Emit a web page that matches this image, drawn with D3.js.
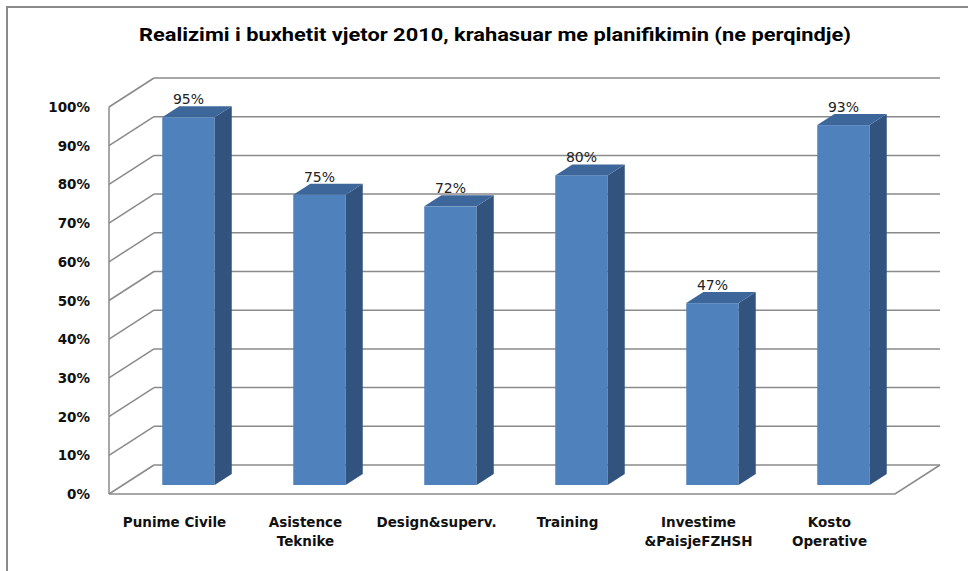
<!DOCTYPE html>
<html lang="sq">
<head>
<meta charset="utf-8">
<title>Realizimi i buxhetit</title>
<script src="https://cdn.jsdelivr.net/npm/d3@7"></script>
<style>
  body { margin: 0; background: #fff; }
</style>
</head>
<body>
<script>
var categories = ['Punime Civile', 'Asistence\nTeknike', 'Design&superv.', 'Training', 'Investime\n&PaisjeFZHSH', 'Kosto\nOperative'];
var values = [0.95, 0.75, 0.72, 0.80, 0.47, 0.93];
var ticks = [0, 0.1, 0.2, 0.3, 0.4, 0.5, 0.6, 0.7, 0.8, 0.9, 1.0];
var title = 'Realizimi i buxhetit vjetor 2010, krahasuar me planifikimin (ne perqindje)';

var w = 972, h = 571;
// 3d projection: depth offset of the back wall
var depthX = 45, depthY = -29;
var frontLeft = 109, frontRight = 895, floorY = 494, topY = 107;
var d0 = 0.31, d1 = 0.69; // bar depth span

var svg = d3.select('body').append('svg')
    .attr('width', w)
    .attr('height', h);

// outer frame (only top and left visible)
svg.append('path')
    .attr('d', 'M7,' + h + ' V7 H968')
    .attr('fill', 'none')
    .attr('stroke', '#8a8a8a')
    .attr('stroke-width', 2);

svg.append('text')
    .attr('x', 495)
    .attr('y', 41)
    .attr('text-anchor', 'middle')
    .attr('font-family', 'Roboto, "Liberation Sans", sans-serif')
    .attr('font-weight', 'bold')
    .attr('font-size', '17.5px')
    .attr('textLength', 712)
    .attr('lengthAdjust', 'spacingAndGlyphs')
    .attr('fill', '#000')
    .text(title);

var yScale = d3.scaleLinear().domain([0, 1]).range([floorY, topY]);
var xScale = d3.scaleBand().domain(categories).range([frontLeft, frontRight]);

var grid = svg.append('g')
    .attr('stroke', '#8a8a8a')
    .attr('stroke-width', 1.5)
    .attr('fill', 'none');

// back wall lines
grid.selectAll('.back')
    .data(ticks)
    .enter()
    .append('line')
    .attr('x1', frontLeft + depthX)
    .attr('x2', frontRight + depthX)
    .attr('y1', function(d){ return yScale(d) + depthY; })
    .attr('y2', function(d){ return yScale(d) + depthY; });

// side wall diagonals
grid.selectAll('.side')
    .data(ticks)
    .enter()
    .append('line')
    .attr('x1', frontLeft)
    .attr('x2', frontLeft + depthX)
    .attr('y1', function(d){ return yScale(d); })
    .attr('y2', function(d){ return yScale(d) + depthY; });

// front vertical axis and floor
grid.append('line')
    .attr('x1', frontLeft).attr('x2', frontLeft)
    .attr('y1', yScale(1)).attr('y2', yScale(0));
grid.append('path')
    .attr('d', 'M' + frontLeft + ',' + yScale(0) + ' H' + frontRight +
        ' L' + (frontRight + depthX) + ',' + (yScale(0) + depthY));

// y axis labels
svg.selectAll('.ylab')
    .data(ticks)
    .enter()
    .append('text')
    .attr('x', 90)
    .attr('y', function(d){ return yScale(d) + 5; })
    .attr('text-anchor', 'end')
    .attr('font-family', '"DejaVu Sans", sans-serif')
    .attr('font-weight', 'bold')
    .attr('font-size', '13.5px')
    .attr('fill', '#111')
    .text(function(d){ return Math.round(d * 100) + '%'; });

// bars
var bw = xScale.bandwidth() * 0.4;
var bars = svg.selectAll('.bar')
    .data(values)
    .enter()
    .append('g');

function bx(i){ return xScale(categories[i]) + xScale.bandwidth() * 0.3 + d0 * depthX; }
function by(v){ return yScale(v) + d0 * depthY; }
var ddx = (d1 - d0) * depthX, ddy = (d1 - d0) * depthY;

bars.append('rect')
    .attr('x', function(d, i){ return bx(i); })
    .attr('y', function(d){ return by(d); })
    .attr('width', bw)
    .attr('height', function(d){ return by(0) - by(d); })
    .attr('fill', '#4f81bd');

bars.append('path')
    .attr('d', function(d, i){
        var x = bx(i) + bw;
        return 'M' + x + ',' + by(d) + ' L' + (x + ddx) + ',' + (by(d) + ddy) +
            ' L' + (x + ddx) + ',' + (by(0) + ddy) + ' L' + x + ',' + by(0) + 'Z';
    })
    .attr('fill', '#31537d');

bars.append('path')
    .attr('d', function(d, i){
        var x = bx(i), y = by(d);
        return 'M' + x + ',' + y + ' L' + (x + ddx) + ',' + (y + ddy) +
            ' L' + (x + bw + ddx) + ',' + (y + ddy) + ' L' + (x + bw) + ',' + y + 'Z';
    })
    .attr('fill', '#3d679b');

// value labels
svg.selectAll('.val')
    .data(values)
    .enter()
    .append('text')
    .attr('x', function(d, i){ return bx(i) + bw / 2; })
    .attr('y', function(d){ return by(d) + ddy - 2; })
    .attr('text-anchor', 'middle')
    .attr('font-family', '"DejaVu Sans", sans-serif')
    .attr('font-size', '14px')
    .attr('fill', '#222')
    .text(function(d){ return Math.round(d * 100) + '%'; });

// category labels
var cat = svg.selectAll('.cat')
    .data(categories)
    .enter()
    .append('text')
    .attr('x', function(d){ return xScale(d) + xScale.bandwidth() / 2; })
    .attr('y', 527)
    .attr('text-anchor', 'middle')
    .attr('font-family', '"DejaVu Sans", sans-serif')
    .attr('font-weight', 'bold')
    .attr('font-size', '13.5px')
    .attr('fill', '#111');

cat.selectAll('tspan')
    .data(function(d){ return d.split('\n'); })
    .enter()
    .append('tspan')
    .attr('x', function(){ var p = d3.select(this.parentNode).datum(); return xScale(p) + xScale.bandwidth() / 2; })
    .attr('dy', function(d, i){ return i === 0 ? 0 : 19; })
    .text(function(d){ return d; });
</script>
</body>
</html>
